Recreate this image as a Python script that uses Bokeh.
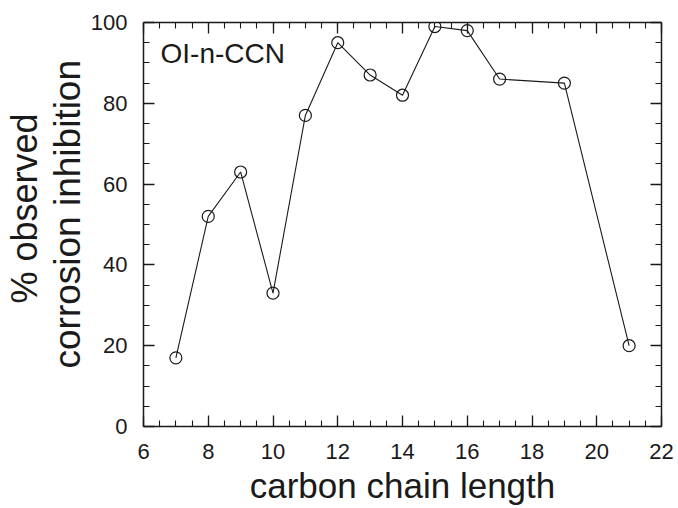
from bokeh.plotting import figure
from bokeh.models import LinearAxis, SingleIntervalTicker, Label, Range1d, Title
from bokeh.embed import file_html
from bokeh.resources import INLINE

chain_length = [7, 8, 9, 10, 11, 12, 13, 14, 15, 16, 17, 19, 21]
inhibition = [17, 52, 63, 33, 77, 95, 87, 82, 99, 98, 86, 85, 20]

x_label = "carbon chain length"
y_label_1 = "% observed"
y_label_2 = "corrosion inhibition"
series_name = "OI-n-CCN"

FONT = "Liberation Sans"
INK = "#1a1a1a"

p = figure(width=678, height=508, output_backend="svg", toolbar_location=None,
           x_range=Range1d(6, 22), y_range=Range1d(0, 100),
           x_axis_location=None, y_axis_location=None,
           min_border_left=143, min_border_right=17, min_border_top=22, min_border_bottom=82)
p.grid.visible = False
p.outline_line_color = None
p.background_fill_color = "white"
p.border_fill_color = "white"


def style_axis(ax, show_labels):
    ax.axis_line_color = INK
    ax.axis_line_width = 1.5
    ax.major_tick_line_color = INK
    ax.minor_tick_line_color = INK
    ax.major_tick_line_width = 1.3
    ax.minor_tick_line_width = 1.1
    ax.major_tick_in = 11
    ax.major_tick_out = 0
    ax.minor_tick_in = 6
    ax.minor_tick_out = 0
    ax.major_label_text_font = FONT
    ax.major_label_text_font_size = "22px"
    if show_labels:
        ax.major_label_text_color = INK
    else:
        ax.major_label_text_color = None
        ax.major_label_standoff = 0


bottom_axis = LinearAxis(ticker=SingleIntervalTicker(interval=2, num_minor_ticks=4))
style_axis(bottom_axis, True)
bottom_axis.major_label_standoff = 17
bottom_axis.axis_label = x_label
bottom_axis.axis_label_text_font = FONT
bottom_axis.axis_label_text_font_size = "35px"
bottom_axis.axis_label_text_font_style = "normal"
bottom_axis.axis_label_text_color = INK
bottom_axis.axis_label_standoff = 4
p.add_layout(bottom_axis, "below")

top_axis = LinearAxis(ticker=SingleIntervalTicker(interval=2, num_minor_ticks=4))
style_axis(top_axis, False)
p.add_layout(top_axis, "above")

left_axis = LinearAxis(ticker=SingleIntervalTicker(interval=20, num_minor_ticks=4))
style_axis(left_axis, True)
left_axis.major_label_standoff = 16
p.add_layout(left_axis, "left")

right_axis = LinearAxis(ticker=SingleIntervalTicker(interval=20, num_minor_ticks=4))
style_axis(right_axis, False)
p.add_layout(right_axis, "right")

p.add_layout(Title(text=y_label_2, align="left", offset=58, standoff=0,
                   text_font=FONT, text_font_size="37px", text_font_style="normal",
                   text_color=INK), "left")
p.add_layout(Title(text=y_label_1, align="left", offset=123, standoff=0,
                   text_font=FONT, text_font_size="36px", text_font_style="normal",
                   text_color=INK), "left")

p.line(chain_length, inhibition, line_color=INK, line_width=1.1)
p.scatter(chain_length, inhibition, marker="circle", size=12, fill_color=None,
          line_color=INK, line_width=1.2)

p.add_layout(Label(x=6, y=100, x_offset=17, y_offset=-31, text=series_name,
                   text_font=FONT, text_font_size="28px", text_color=INK,
                   text_baseline="alphabetic", text_align="left"))

open("out.html", "w").write(file_html(p, INLINE))
